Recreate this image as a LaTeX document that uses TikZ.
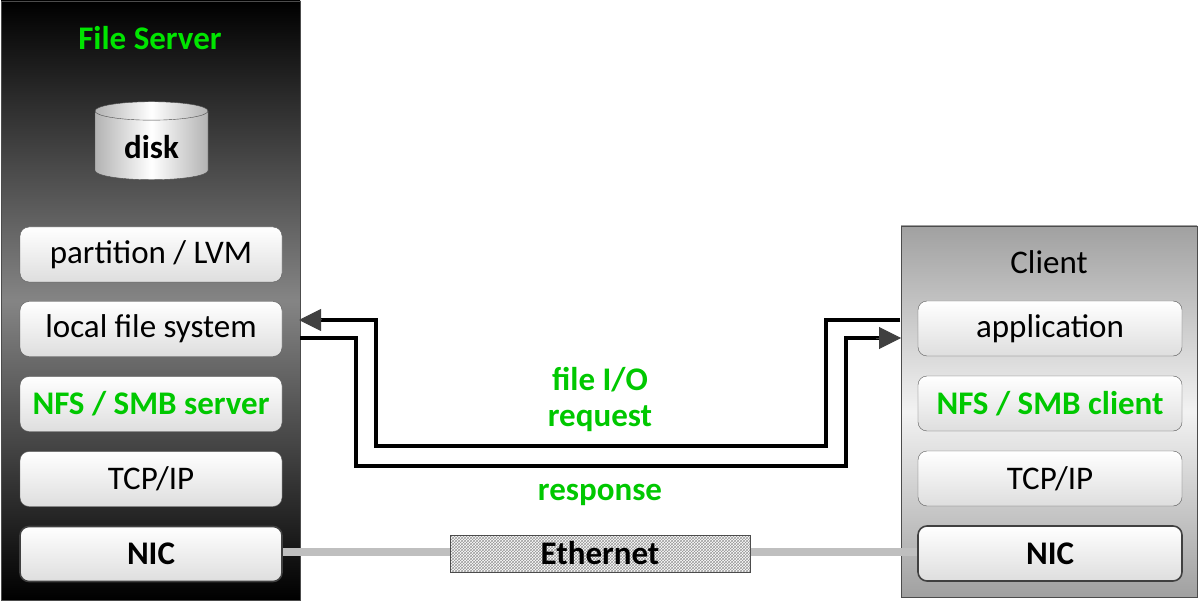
\documentclass[tikz,border=0pt]{standalone}
\usepackage{fontspec}
\setmainfont{Carlito}
\usetikzlibrary{shapes.geometric,patterns,arrows.meta}
\definecolor{grn}{RGB}{0,200,0}
\tikzset{
  layer/.style={draw=black!65, rounded corners=9pt, top color=white, bottom color=black!13, minimum height=55pt, inner sep=0pt, font=\fontsize{33}{36}\selectfont},
  boldlayer/.style={layer, line width=1.6pt, draw=black!75, font=\fontsize{33}{36}\selectfont\bfseries},
  greenlayer/.style={layer, text=grn, font=\fontsize{33}{36}\selectfont\bfseries},
  flow/.style={line width=4.5pt, black},
  tip/.style={-{Triangle[length=22pt,width=22pt,fill=black!75]}, shorten >=-1pt},
  lbl/.style={text=grn, font=\fontsize{33}{36}\selectfont\bfseries}
}
\begin{document}
\begin{tikzpicture}[x=1pt,y=-1pt]
\useasboundingbox (0,0) rectangle (1201,601);
% panels
\path[draw=black!70, top color=black, bottom color=black, middle color=black!48] (1,1) rectangle (300,600);
\path[draw=black!70, top color=black!37, bottom color=black!37, middle color=black!5] (901,226) rectangle (1197,597);
\node[text={rgb,255:red,0;green,230;blue,0}, font=\fontsize{33}{36}\selectfont\bfseries] (fs) at (150,38) {File Server};
\node[font=\fontsize{33}{36}\selectfont] (cl) at (1049,262) {Client};
% disk
\node[cylinder, shape border rotate=90, aspect=0.3, draw=black!70, minimum width=113pt, minimum height=78pt, left color=black!30, right color=black!30, middle color=white, font=\fontsize{33}{36}\selectfont\bfseries] (disk) at (151.5,147) {disk};
% server layers
\node[layer, minimum width=262pt] (part) at (151,254.5) {partition / LVM};
\node[layer, minimum width=262pt] (lfs) at (151,329) {local file system};
\node[greenlayer, minimum width=262pt] (nfss) at (151,404) {NFS / SMB server};
\node[layer, minimum width=262pt] (tcps) at (151,479) {TCP/IP};
\node[boldlayer, minimum width=262pt] (nics) at (151,554) {NIC};
% client layers
\node[layer, minimum width=264pt] (app) at (1050,328.5) {application};
\node[greenlayer, minimum width=264pt] (nfsc) at (1050,403.5) {NFS / SMB client};
\node[layer, minimum width=264pt] (tcpc) at (1050,478.5) {TCP/IP};
\node[boldlayer, minimum width=264pt] (nicc) at (1050,553.5) {NIC};
% ethernet
\node[draw=black!70, line width=1pt, pattern=crosshatch, pattern color=black!40, minimum width=300pt, minimum height=37pt, inner sep=0pt] (eth) at (600,553.5) {};
\node[font=\fontsize{33}{36}\selectfont\bfseries] at (eth) {Ethernet};
\draw[line width=8pt, black!25] (nics.east |- 0,552) -- (eth.west |- 0,552);
\draw[line width=8pt, black!25] (eth.east |- 0,552) -- (nicc.west |- 0,552);
% flows
\coordinate (c1) at (900,320);
\coordinate (s1) at (300,320);
\coordinate (s2) at (300,338);
\coordinate (c2) at (900,338);
\draw[flow] (c1) -- (826,320) -- (826,446) -- (376,446) -- (376,320) -- (318,320);
\draw[tip, line width=1pt, black!75] (322,320) -- (s1);
\draw[flow] (s2) -- (356,338) -- (356,466) -- (846,466) -- (846,338) -- (880,338);
\draw[tip, line width=1pt, black!75] (876,338) -- (c2);
\node[lbl] (l1) at (600,380) {file I/O};
\node[lbl] (l2) at (600,419) {request};
\node[lbl] (l3) at (600,495) {response};
\end{tikzpicture}
\end{document}
